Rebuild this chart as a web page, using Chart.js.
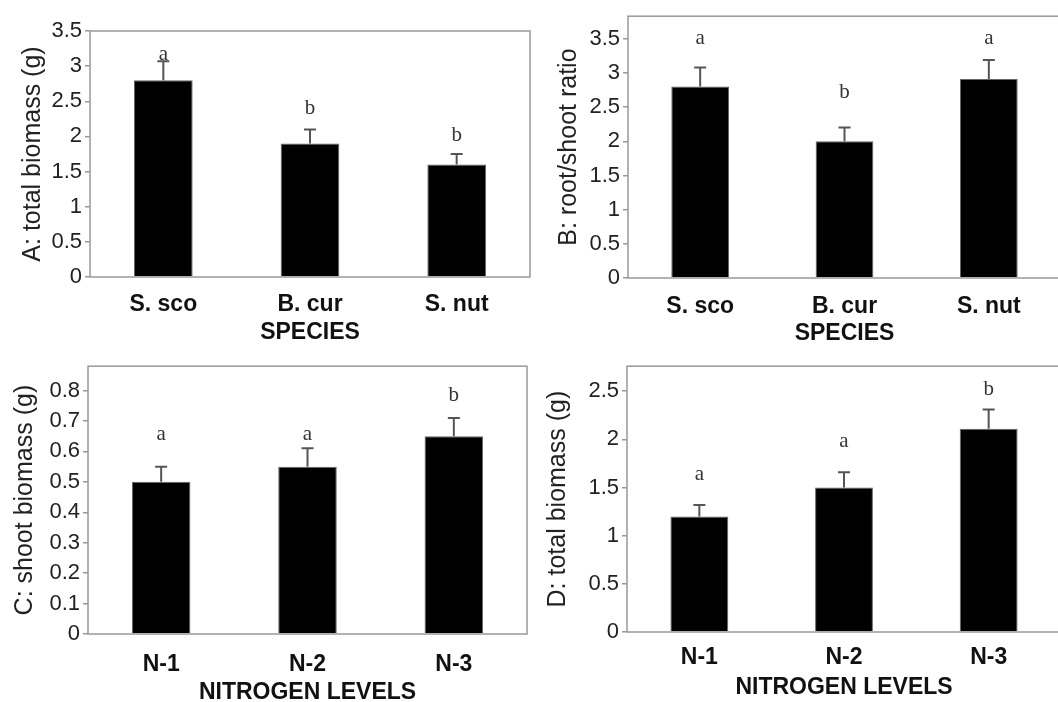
<!DOCTYPE html>
<html>
<head>
<meta charset="utf-8">
<script src="https://cdn.jsdelivr.net/npm/chart.js@4"></script>
<style>
  html, body { margin: 0; padding: 0; background: #fff; }
  body { width: 1058px; height: 702px; overflow: hidden; position: relative; }
  canvas { position: absolute; }
</style>
</head>
<body>
<canvas id="panelA" width="535" height="350" style="left:0;top:0"></canvas>
<canvas id="panelB" width="531" height="350" style="left:530px;top:0"></canvas>
<canvas id="panelC" width="535" height="358" style="left:0;top:350px"></canvas>
<canvas id="panelD" width="531" height="358" style="left:530px;top:350px"></canvas>
<script>
// datos
const especies = ["S. sco", "B. cur", "S. nut"];
const nitrogeno = ["N-1", "N-2", "N-3"];

const biomasaTotalA = [2.8, 1.9, 1.6];
const errorA = [3.07, 2.1, 1.75];
const letrasA = ["a", "b", "b"];
const alturaLetrasA = [3.16, 2.4, 2.02];

const raizTalloB = [2.8, 2.0, 2.91];
const errorB = [3.08, 2.2, 3.19];
const letrasB = ["a", "b", "a"];
const alturaLetrasB = [3.5, 2.71, 3.5];

const biomasaTalloC = [0.5, 0.55, 0.65];
const errorC = [0.55, 0.61, 0.71];
const letrasC = ["a", "a", "b"];
const alturaLetrasC = [0.656, 0.656, 0.784];

const biomasaTotalD = [1.2, 1.5, 2.11];
const errorD = [1.32, 1.66, 2.31];
const letrasD = ["a", "a", "b"];
const alturaLetrasD = [1.64, 1.98, 2.52];

const fuente = "Arial, 'Liberation Sans', sans-serif";

// marco, barras de error y letras
const extras = {
  id: "extras",
  afterDatasetsDraw(chart, args, opts) {
    const ctx = chart.ctx;
    const y = chart.scales.y;
    const barras = chart.getDatasetMeta(0).data;
    ctx.save();
    ctx.strokeStyle = "#555";
    ctx.lineWidth = 2;
    barras.forEach((b, i) => {
      const yErr = y.getPixelForValue(opts.errores[i]);
      ctx.beginPath();
      ctx.moveTo(b.x, b.y);
      ctx.lineTo(b.x, yErr);
      ctx.moveTo(b.x - 6, yErr);
      ctx.lineTo(b.x + 6, yErr);
      ctx.stroke();
    });
    ctx.fillStyle = "#333";
    ctx.font = "21px 'Liberation Serif', 'Times New Roman', serif";
    ctx.textAlign = "center";
    ctx.textBaseline = "middle";
    barras.forEach((b, i) => {
      ctx.fillText(opts.letras[i], b.x, y.getPixelForValue(opts.alturas[i]));
    });
    ctx.restore();
  },
  afterDraw(chart) {
    const a = chart.chartArea;
    const ctx = chart.ctx;
    ctx.save();
    ctx.strokeStyle = "#999";
    ctx.lineWidth = 1.5;
    ctx.strokeRect(a.left, a.top, a.right - a.left, a.bottom - a.top);
    ctx.restore();
  }
};

function crearPanel(id, etiquetas, valores, errores, letras, alturas, cfg) {
  const ctx = document.getElementById(id).getContext("2d");
  return new Chart(ctx, {
    type: "bar",
    data: {
      labels: etiquetas,
      datasets: [{
        data: valores,
        backgroundColor: "#000",
        borderColor: "#666",
        borderWidth: 1,
        barPercentage: 0.4,
        categoryPercentage: 1
      }]
    },
    options: {
      responsive: false,
      animation: false,
      events: [],
      layout: { padding: { top: cfg.arriba, right: cfg.derecha, left: 0, bottom: 0 } },
      plugins: {
        legend: { display: false },
        tooltip: { enabled: false },
        extras: { errores: errores, letras: letras, alturas: alturas }
      },
      scales: {
        x: {
          grid: { display: false, drawTicks: false },
          border: { display: false },
          ticks: {
            color: "#111",
            padding: cfg.padX,
            font: { family: fuente, size: 23, weight: "bold" }
          },
          title: {
            display: true,
            text: cfg.tituloX,
            color: "#111",
            padding: { top: 0, bottom: cfg.padTituloX },
            font: { family: fuente, size: 23, weight: "bold" }
          },
          afterFit: s => { s.height = cfg.altoX; }
        },
        y: {
          min: 0,
          max: cfg.max,
          grid: { drawOnChartArea: false, tickLength: 5, color: "#999", lineWidth: 1.5 },
          border: { display: false },
          ticks: {
            stepSize: cfg.paso,
            includeBounds: false,
            padding: 3,
            color: "#222",
            font: { family: fuente, size: 22 },
            callback: v => String(+v.toFixed(2))
          },
          title: {
            display: true,
            text: cfg.tituloY,
            color: "#222",
            padding: { top: cfg.padTituloY, bottom: 0 },
            font: { family: fuente, size: 25 }
          },
          afterFit: s => { s.width = cfg.anchoY; }
        }
      }
    },
    plugins: [extras]
  });
}

crearPanel("panelA", especies, biomasaTotalA, errorA, letrasA, alturaLetrasA, {
  arriba: 31, derecha: 5, anchoY: 90, altoX: 73, max: 3.5, paso: 0.5,
  tituloY: "A: total biomass (g)", tituloX: "SPECIES", padX: 14, padTituloX: 4, padTituloY: 18
});
crearPanel("panelB", especies, raizTalloB, errorB, letrasB, alturaLetrasB, {
  arriba: 10, derecha: 0, anchoY: 98, altoX: 72, max: 3.83, paso: 0.5,
  tituloY: "B: root/shoot ratio", tituloX: "SPECIES", padX: 15, padTituloX: 3, padTituloY: 24
});
crearPanel("panelC", nitrogeno, biomasaTalloC, errorC, letrasC, alturaLetrasC, {
  arriba: 13, derecha: 8, anchoY: 88, altoX: 74, max: 0.88, paso: 0.1,
  tituloY: "C: shoot biomass (g)", tituloX: "NITROGEN LEVELS", padX: 17, padTituloX: 2, padTituloY: 10
});
crearPanel("panelD", nitrogeno, biomasaTotalD, errorD, letrasD, alturaLetrasD, {
  arriba: 10, derecha: 0, anchoY: 97, altoX: 76, max: 2.76, paso: 0.5,
  tituloY: "D: total biomass (g)", tituloX: "NITROGEN LEVELS", padX: 12, padTituloX: 7, padTituloY: 13
});
</script>
</body>
</html>
